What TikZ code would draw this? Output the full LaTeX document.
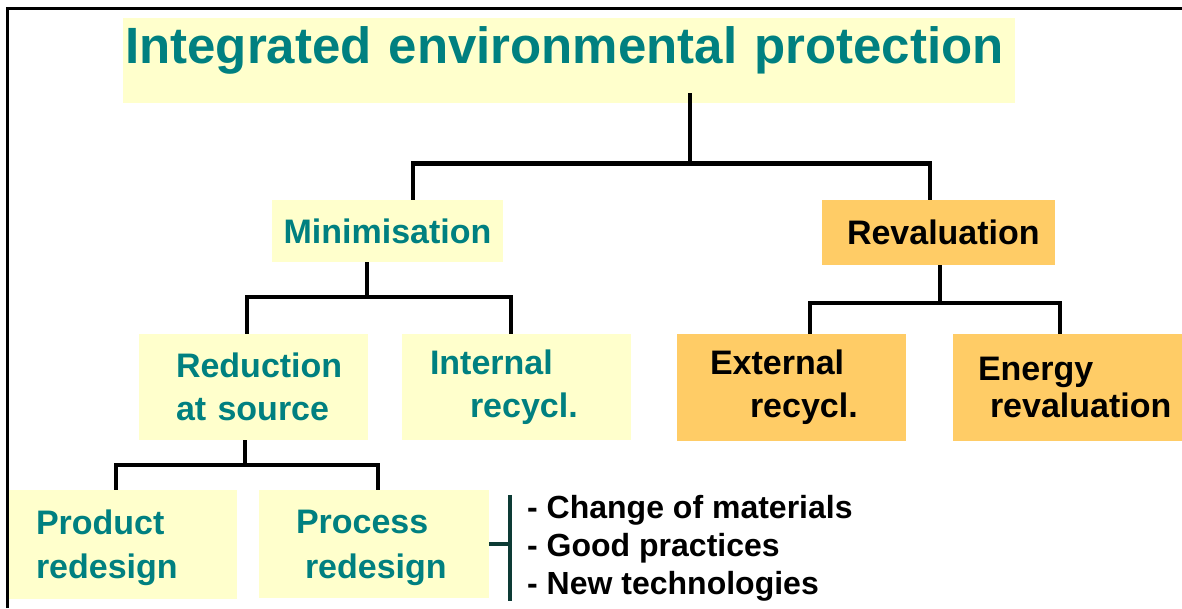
\documentclass[tikz,border=0pt]{standalone}
\usepackage{fontspec}
\setmainfont{Liberation Sans}
\definecolor{paleyellow}{HTML}{FFFFCC}
\definecolor{deepteal}{HTML}{008080}
\definecolor{sand}{HTML}{FFCC66}
\definecolor{darkpine}{HTML}{0D3B35}

\begin{document}
\begin{tikzpicture}[x=1pt, y=-1pt,
  paleblock/.style = {fill=paleyellow, text=deepteal, inner ysep=0pt, align=left, font=\bfseries\fontsize{34}{43}\selectfont},
  warmblock/.style = {paleblock, fill=sand, text=black},
  branch/.style = {line width=4.5pt},
  bracket/.style = {line width=4pt, darkpine},
  edgeline/.style = {line width=3pt}]
\useasboundingbox (0,0) rectangle (1182,608);

\node[paleblock, anchor=north west, minimum width=892pt, minimum height=85pt, inner xsep=2pt, text width=888pt, text height=40pt, text depth=35pt, font=\bfseries\fontsize{51}{51}\selectfont] (title) at (123,18) {Integrated environmental protection};
\node[paleblock, minimum width=231pt, minimum height=62pt] (minim) at (387.5,231) {Minimisation};
\node[warmblock, minimum width=233pt, minimum height=65pt, inner xsep=25pt, text width=183pt] (reval) at (938.5,232.5) {Revaluation};
\node[paleblock, minimum width=229pt, minimum height=106pt, inner xsep=37pt, text width=155pt] (reduc) at (253.5,387) {Reduction\\at source};
\node[paleblock, minimum width=229pt, minimum height=106pt, inner xsep=28pt, text width=173pt] (intern) at (516.5,387) {Internal\\\hspace*{40pt}recycl.};
\node[warmblock, minimum width=229pt, minimum height=107pt, inner xsep=33pt, text width=163pt] (extern) at (791.5,387.5) {External\\\hspace*{40pt}recycl.};
\node[warmblock, minimum width=229pt, minimum height=107pt, inner xsep=25pt, text width=179pt, font=\bfseries\fontsize{34}{37}\selectfont] (energy) at (1067.5,387.5) {Energy\\\hspace*{12pt}\mbox{revaluation}};
\node[paleblock, minimum width=229pt, minimum height=109pt, inner xsep=28pt, text width=173pt, text depth=44pt, font=\bfseries\fontsize{34}{44}\selectfont] (product) at (122.5,544.5) {Product\\redesign};
\node[paleblock, minimum width=230pt, minimum height=108pt, inner xsep=37pt, text width=156pt, text depth=45pt, font=\bfseries\fontsize{34}{45}\selectfont] (process) at (374,544) {Process\\\hspace*{9pt}redesign};
\node[anchor=west, inner sep=0pt, align=left, font=\bfseries\fontsize{32}{38}\selectfont] (changes) at (527,548) {- Change of materials\\- Good practices\\- New technologies};

\draw[branch] ([xshift=121pt, yshift=10pt]title.south) -- ++(0,70) coordinate (tsplit) -| ([xshift=25.5pt]minim.north) (tsplit) -| ([xshift=-8.5pt]reval.north);
\draw[branch] ([xshift=-20.5pt]minim.south) -- ++(0,35) coordinate (msplit) -| ([xshift=-6.5pt]reduc.north) (msplit) -| ([xshift=-5.5pt]intern.north);
\draw[branch] ([xshift=1.5pt]reval.south) -- ++(0,38) coordinate (rsplit) -| ([xshift=18.5pt]extern.north) (rsplit) -| ([xshift=-7.5pt]energy.north);
\draw[branch] ([xshift=-8.5pt]reduc.south) -- ++(0,25) coordinate (ssplit) -| ([xshift=-6.5pt]product.north) (ssplit) -| ([xshift=4pt]process.north);
\draw[bracket] ([xshift=-17pt]changes.north west) -- ([xshift=-17pt]changes.south west);
\draw[bracket] (process.east) -- ++(21,0);

\draw[edgeline] (7,608) -- (7,8) -- (1182,8);
\end{tikzpicture}
\end{document}
